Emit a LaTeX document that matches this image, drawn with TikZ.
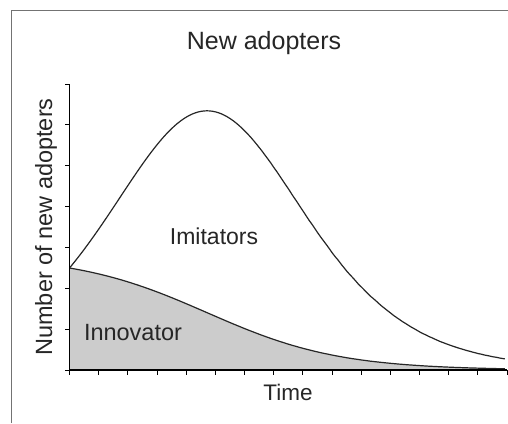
\documentclass[tikz,border=0pt]{standalone}
\usepackage{fontspec}
\setmainfont{Liberation Sans}
\usepackage{tikz}
\usetikzlibrary{arrows.meta}

\begin{document}
\begin{tikzpicture}[x=1pt, y=-1pt,
    declare function={
      bassE(\s) = exp(-9.04*\s);
      bassF(\s) = (1-bassE(\s))/(1+8.04*bassE(\s));
      innovH(\s) = 102*(1-bassF(\s));
      totalH(\s) = 102*(1+8.04*bassF(\s))*(1-bassF(\s));
    },
    axisline/.style={line width=1.4pt, black},
    tickline/.style={line width=1pt, black},
    curveline/.style={line width=1.2pt, black!85},
    label/.style={inner sep=0pt, text=black!85},
    frameline/.style={line width=1pt, black!55}]
      \useasboundingbox (0,0) rectangle (508,423);

      % frame
      \coordinate (fl) at (11,423);
      \coordinate (fc) at (11,10);
      \coordinate (fr) at (508,10);
      \draw[frameline] (fl) -- (fc) -- (fr);

      % axes
      \coordinate (O) at (69.5,370);
      \coordinate (ytop) at (69.5,84);
      \coordinate (xend) at (507,370);

      % innovator area
      \fill[black!20] plot[domain=0:0.73, samples=120]
        ({69.5+596.5*\x}, {370-innovH(\x)}) -- (xend) -- (O) -- cycle;
      \draw[curveline] plot[domain=0:0.73, samples=120]
        ({69.5+596.5*\x}, {370-innovH(\x)});

      % total adopters
      \draw[curveline] plot[domain=0:0.73, samples=150]
        ({69.5+596.5*\x}, {370-totalH(\x)});

      \foreach \i in {0,...,7}
        \draw[tickline] (69.5,370-40.857*\i) -- ++(-5,0);
      \foreach \i in {0,...,15}
        \draw[tickline] (69.5+29.17*\i,370) -- ++(0,5);

      \draw[axisline] (ytop) -- (O) -- (xend);

      \node[label, font=\fontsize{25}{30}\selectfont] (title) at (264,43) {New adopters};
      \node[label, font=\fontsize{23}{28}\selectfont] (imit) at (214,236) {Imitators};
      \node[label, font=\fontsize{23.5}{28}\selectfont] (innov) at (133,333) {Innovator};
      \node[label, font=\fontsize{22.5}{27}\selectfont] (xlabel) at (288,392) {Time};
      \node[label, rotate=90, font=\fontsize{23.5}{28}\selectfont] (ylabel) at (46,227) {Number of new adopters};
\end{tikzpicture}
\end{document}
